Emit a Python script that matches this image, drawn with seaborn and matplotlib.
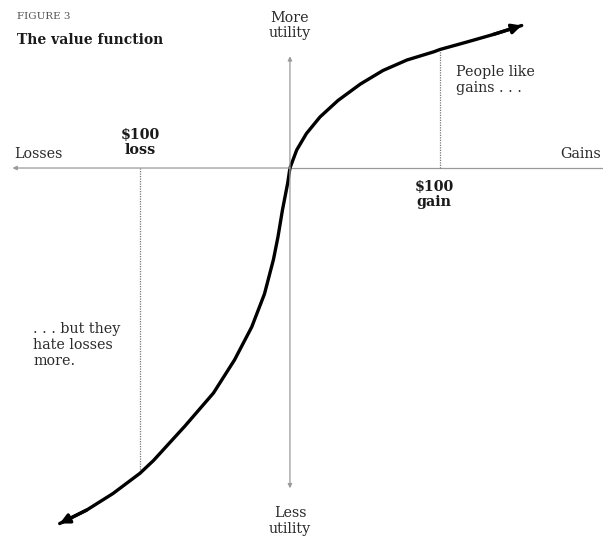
import matplotlib.pyplot as plt
import numpy as np
import pandas as pd
import seaborn as sns

# value function: dollars won/lost vs utility (arbitrary units)
GAINS = [0, 4.5, 11, 20, 32, 47, 62, 78, 96, 100, 118, 135.5, 154.5]
GAIN_UTILITY = [0, 12, 23, 34, 45, 56, 65, 72, 77.5, 79, 84, 89, 95]
LOSSES = [0, -1.5, -5, -8, -11, -17, -25.5, -37, -51, -70, -91, -100,
          -118, -135.5, -153.5]
LOSS_UTILITY = [0, -10, -28, -46, -61, -84, -106, -128, -150, -172, -195,
                -203.5, -217, -228, -237]

MARKED = [-100, 100]  # the two $100 reference points

TEXT = '#2a2a2a'
AXIS = '#9a9a9a'


def arrow(ax, start, end, style, color, lw, scale):
    ax.annotate(
        '',
        xy=end,
        xytext=start,
        arrowprops=dict(
            arrowstyle=style,
            color=color,
            lw=lw,
            mutation_scale=scale,
            shrinkA=0,
            shrinkB=0,
        ),
    )


def main():
    df = pd.DataFrame({
        'dollars': LOSSES[::-1] + GAINS[1:],
        'utility': LOSS_UTILITY[::-1] + GAIN_UTILITY[1:],
    })

    sns.set_theme(style='white')
    plt.rcParams['font.family'] = ['DejaVu Serif']

    fig = plt.figure(figsize=(6.03, 5.48), dpi=100)
    ax = fig.add_axes([0, 0, 1, 1])
    ax.set_xlim(-193.3, 208.7)
    ax.set_ylim(-253.3, 112)
    ax.axis('off')

    # axes of the diagram
    ax.plot([0, 210], [0, 0], color=AXIS, lw=0.9)
    arrow(ax, (0, 0), (-185, 0), '-|>', AXIS, 0.9, 6)
    arrow(ax, (0, -213.5), (0, 74.5), '<|-|>', AXIS, 0.9, 6)

    # dotted guides at +/- $100
    lookup = dict(zip(df['dollars'], df['utility']))
    for x in MARKED:
        ax.plot([x, x], [0, lookup[x]], color='#777777', lw=0.9, ls=(0, (1, 1)))

    sns.lineplot(
        data=df,
        x='dollars',
        y='utility',
        estimator=None,
        color='black',
        lw=2.4,
        solid_joinstyle='round',
        ax=ax,
    )
    arrow(ax, (LOSSES[-2], LOSS_UTILITY[-2]), (LOSSES[-1], LOSS_UTILITY[-1]),
          '-|>', 'black', 2.4, 14)
    arrow(ax, (GAINS[-2], GAIN_UTILITY[-2]), (GAINS[-1], GAIN_UTILITY[-1]),
          '-|>', 'black', 2.4, 14)

    fig.text(0.028, 0.978, 'FIGURE 3', fontsize=7.5, color='#555555', va='top')
    fig.text(0.028, 0.94, 'The value function', fontsize=10,
             fontweight='bold', color='#1a1a1a', va='top')

    fs = 10.3
    ax.text(0, 105, 'More\nutility', ha='center', va='top', fontsize=fs,
            color=TEXT, linespacing=1.15)
    ax.text(0, -225.5, 'Less\nutility', ha='center', va='top', fontsize=fs,
            color=TEXT, linespacing=1.15)
    ax.text(-184, 7, 'Losses', ha='left', va='baseline', fontsize=fs,
            color=TEXT)
    ax.text(180.5, 7, 'Gains', ha='left', va='baseline', fontsize=fs,
            color=TEXT)
    ax.text(-100, 26.5, '$100\nloss', ha='center', va='top', fontsize=fs,
            fontweight='bold', color='#1a1a1a', linespacing=1.1)
    ax.text(96, -8, '$100\ngain', ha='center', va='top', fontsize=fs,
            fontweight='bold', color='#1a1a1a', linespacing=1.1)
    ax.text(111, 68.5, 'People like\ngains . . .', ha='left', va='top',
            fontsize=fs, color=TEXT, linespacing=1.2)
    ax.text(-171, -102.5, '. . . but they\nhate losses\nmore.', ha='left',
            va='top', fontsize=fs, color=TEXT, linespacing=1.2)

    fig.savefig('out.png', dpi=100)


if __name__ == '__main__':
    main()
